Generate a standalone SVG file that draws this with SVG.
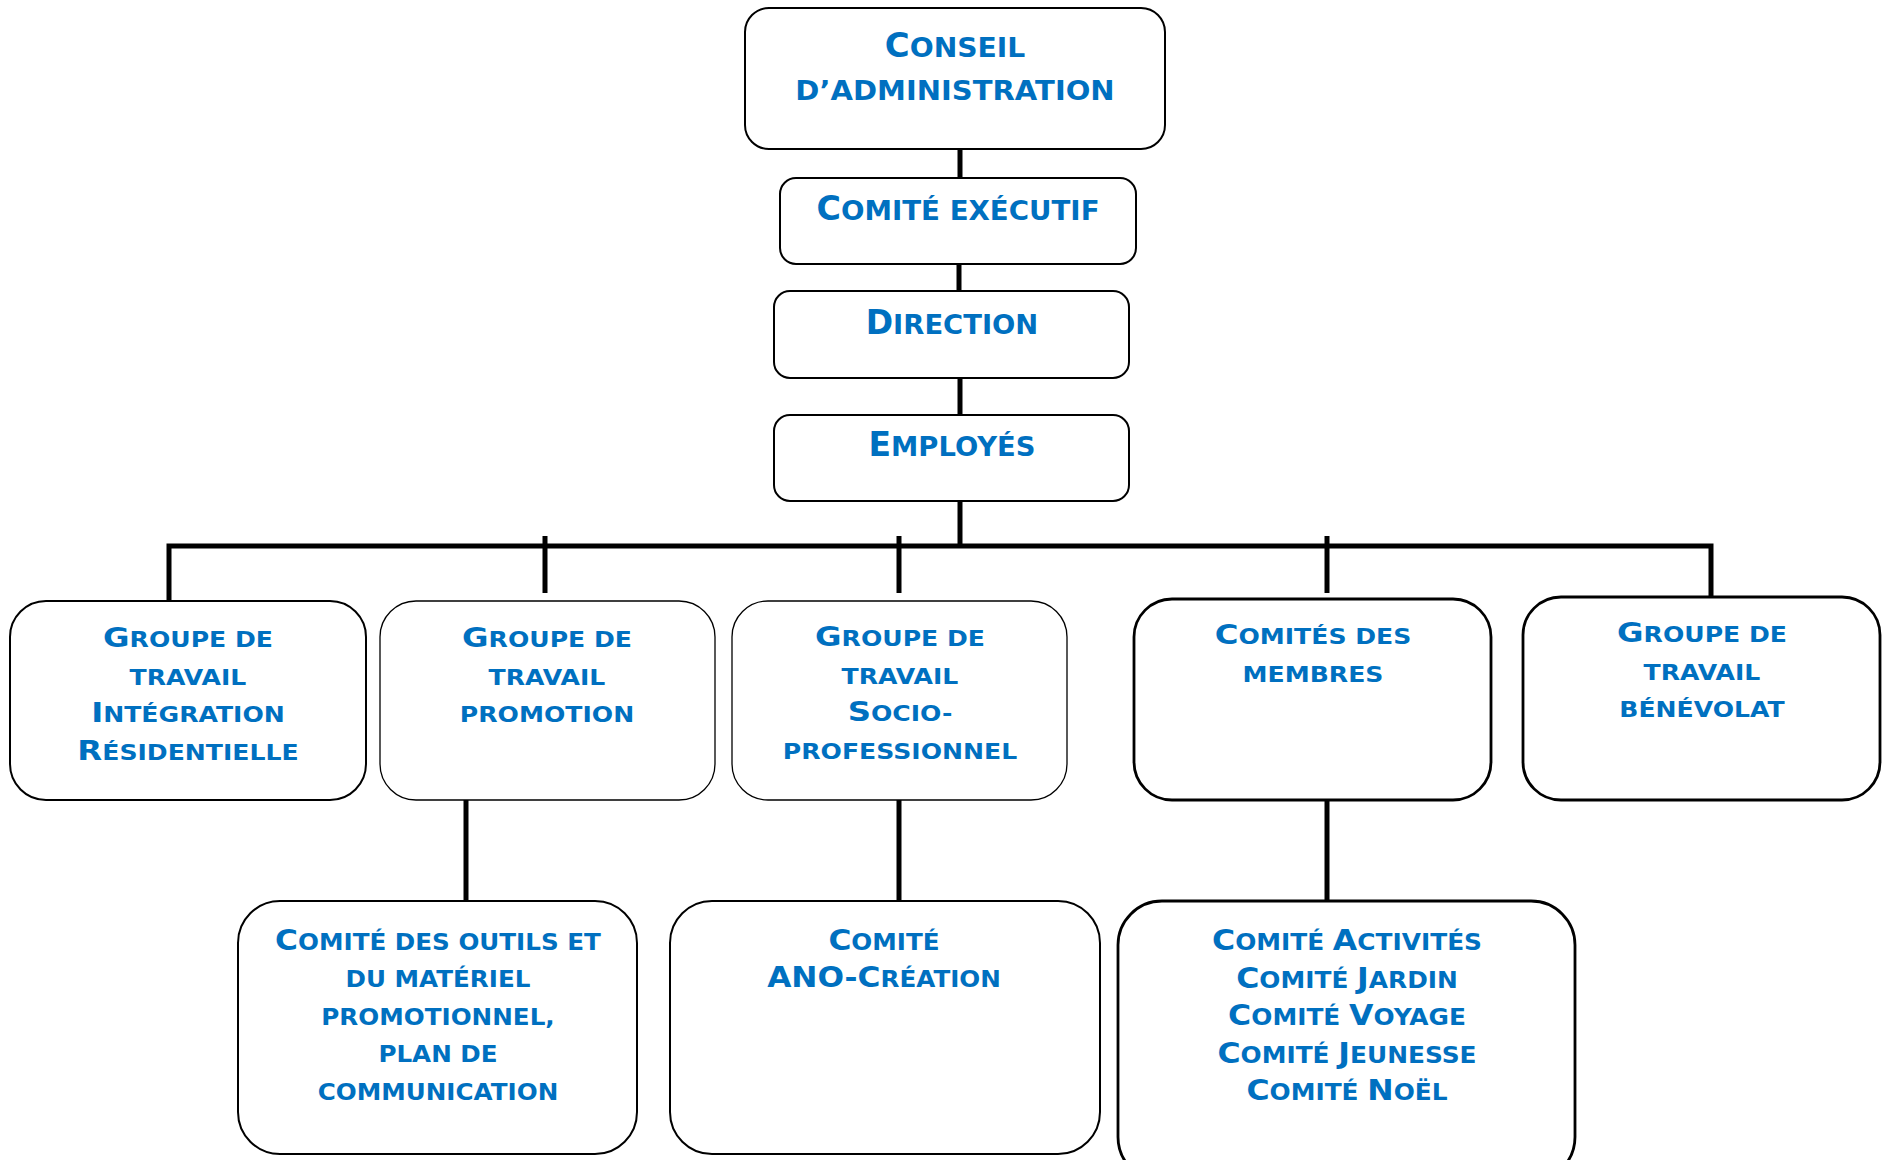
<svg xmlns="http://www.w3.org/2000/svg" width="1883" height="1160" viewBox="0 0 1883 1160">
<style>
.box{fill:#fff;stroke:#000;stroke-width:2}
.thin{stroke-width:1.3}
.thick{stroke-width:2.8}
.conn{stroke:#000;stroke-width:5;fill:none}
text{font-family:"DejaVu Sans",sans-serif;font-weight:bold;fill:#0070C0;text-anchor:middle}
.s{text-transform:uppercase}
.t1{font-size:33px}.t1 .s{font-size:27.4px}
.t2{font-size:26.5px}.t2 .s{font-size:20.6px}
.t3{font-size:28.4px}.t3 .s{font-size:22.4px}
</style>
<rect width="1883" height="1160" fill="#fff"/>
<g id="connectors">
<line class="conn" x1="960" y1="149" x2="960" y2="178"/>
<line class="conn" x1="959" y1="263" x2="959" y2="290"/>
<line class="conn" x1="960" y1="378" x2="960" y2="414"/>
<line class="conn" x1="960" y1="499" x2="960" y2="546"/>
<polyline class="conn" points="169,601 169,546 1711,546 1711,597"/>
<line class="conn" x1="545" y1="536" x2="545" y2="593"/>
<line class="conn" x1="899" y1="536" x2="899" y2="593"/>
<line class="conn" x1="1327" y1="536" x2="1327" y2="593"/>
<line class="conn" x1="466" y1="800" x2="466" y2="900"/>
<line class="conn" x1="899" y1="800" x2="899" y2="900"/>
<line class="conn" x1="1327" y1="800" x2="1327" y2="900"/>
</g>
<g id="conseil">
<rect class="box" x="745" y="8" width="420" height="141" rx="24"/>
<text class="t1" transform="matrix(1.03 0 0 1 955 0)" x="0" y="57"><tspan>C</tspan><tspan class="s">onseil</tspan></text>
<text class="t1" transform="matrix(1.06 0 0 1 955 0)" x="0" y="100"><tspan class="s">d’administration</tspan></text>
</g>
<g id="comite-executif">
<rect class="box" x="780" y="178" width="356" height="86" rx="16"/>
<text class="t1" transform="matrix(1.01 0 0 1 958 0)" x="0" y="220"><tspan>C</tspan><tspan class="s">omité exécutif</tspan></text>
</g>
<g id="direction">
<rect class="box" x="774" y="291" width="355" height="87" rx="16"/>
<text class="t1" transform="matrix(1 0 0 1 952 0)" x="0" y="334"><tspan>D</tspan><tspan class="s">irection</tspan></text>
</g>
<g id="employes">
<rect class="box" x="774" y="415" width="355" height="86" rx="16"/>
<text class="t1" transform="matrix(1 0 0 1 952 0)" x="0" y="456"><tspan>E</tspan><tspan class="s">mployés</tspan></text>
</g>
<g id="integration">
<rect class="box" x="10" y="601" width="356" height="199" rx="36"/>
<g class="t2">
<text transform="matrix(1.22 0 0 1 188 0)" x="0" y="647"><tspan>G</tspan><tspan class="s">roupe de</tspan></text>
<text transform="matrix(1.22 0 0 1 188 0)" x="0" y="685"><tspan class="s">travail</tspan></text>
<text transform="matrix(1.22 0 0 1 188 0)" x="0" y="722"><tspan>I</tspan><tspan class="s">ntégration</tspan></text>
<text transform="matrix(1.22 0 0 1 188 0)" x="0" y="760"><tspan>R</tspan><tspan class="s">ésidentielle</tspan></text>
</g>
</g>
<g id="promotion">
<rect class="box thin" x="380" y="601" width="335" height="199" rx="36"/>
<g class="t2">
<text transform="matrix(1.22 0 0 1 547 0)" x="0" y="647"><tspan>G</tspan><tspan class="s">roupe de</tspan></text>
<text transform="matrix(1.22 0 0 1 547 0)" x="0" y="685"><tspan class="s">travail</tspan></text>
<text transform="matrix(1.22 0 0 1 547 0)" x="0" y="722"><tspan class="s">promotion</tspan></text>
</g>
</g>
<g id="socio">
<rect class="box thin" x="732" y="601" width="335" height="199" rx="36"/>
<g class="t2">
<text transform="matrix(1.22 0 0 1 900 0)" x="0" y="646"><tspan>G</tspan><tspan class="s">roupe de</tspan></text>
<text transform="matrix(1.22 0 0 1 900 0)" x="0" y="684"><tspan class="s">travail</tspan></text>
<text transform="matrix(1.22 0 0 1 900 0)" x="0" y="721"><tspan>S</tspan><tspan class="s">ocio-</tspan></text>
<text transform="matrix(1.22 0 0 1 900 0)" x="0" y="759"><tspan class="s">professionnel</tspan></text>
</g>
</g>
<g id="membres">
<rect class="box thick" x="1134" y="599" width="357" height="201" rx="38"/>
<g class="t2">
<text transform="matrix(1.22 0 0 1 1313 0)" x="0" y="644"><tspan>C</tspan><tspan class="s">omités des</tspan></text>
<text transform="matrix(1.22 0 0 1 1313 0)" x="0" y="682"><tspan class="s">membres</tspan></text>
</g>
</g>
<g id="benevolat">
<rect class="box thick" x="1523" y="597" width="357" height="203" rx="38"/>
<g class="t2">
<text transform="matrix(1.22 0 0 1 1702 0)" x="0" y="642"><tspan>G</tspan><tspan class="s">roupe de</tspan></text>
<text transform="matrix(1.22 0 0 1 1702 0)" x="0" y="680"><tspan class="s">travail</tspan></text>
<text transform="matrix(1.22 0 0 1 1702 0)" x="0" y="717"><tspan class="s">bénévolat</tspan></text>
</g>
</g>
<g id="outils">
<rect class="box" x="238" y="901" width="399" height="253" rx="42"/>
<g class="t3">
<text transform="matrix(1.1 0 0 1 438 0)" x="0" y="950"><tspan>C</tspan><tspan class="s">omité des outils et</tspan></text>
<text transform="matrix(1.1 0 0 1 438 0)" x="0" y="987"><tspan class="s">du matériel</tspan></text>
<text transform="matrix(1.1 0 0 1 438 0)" x="0" y="1025"><tspan class="s">promotionnel,</tspan></text>
<text transform="matrix(1.1 0 0 1 438 0)" x="0" y="1062"><tspan class="s">plan de</tspan></text>
<text transform="matrix(1.1 0 0 1 438 0)" x="0" y="1100"><tspan class="s">communication</tspan></text>
</g>
</g>
<g id="ano-creation">
<rect class="box" x="670" y="901" width="430" height="253" rx="42"/>
<g class="t3">
<text transform="matrix(1.1 0 0 1 884 0)" x="0" y="950"><tspan>C</tspan><tspan class="s">omité</tspan></text>
<text transform="matrix(1.1 0 0 1 884 0)" x="0" y="987"><tspan>ANO-C</tspan><tspan class="s">réation</tspan></text>
</g>
</g>
<g id="comites">
<rect class="box thick" x="1118" y="901" width="457" height="280" rx="44"/>
<g class="t3">
<text transform="matrix(1.11 0 0 1 1347 0)" x="0" y="950"><tspan>C</tspan><tspan class="s">omité </tspan><tspan>A</tspan><tspan class="s">ctivités</tspan></text>
<text transform="matrix(1.11 0 0 1 1347 0)" x="0" y="988"><tspan>C</tspan><tspan class="s">omité </tspan><tspan>J</tspan><tspan class="s">ardin</tspan></text>
<text transform="matrix(1.11 0 0 1 1347 0)" x="0" y="1025"><tspan>C</tspan><tspan class="s">omité </tspan><tspan>V</tspan><tspan class="s">oyage</tspan></text>
<text transform="matrix(1.11 0 0 1 1347 0)" x="0" y="1063"><tspan>C</tspan><tspan class="s">omité </tspan><tspan>J</tspan><tspan class="s">eunesse</tspan></text>
<text transform="matrix(1.11 0 0 1 1347 0)" x="0" y="1100"><tspan>C</tspan><tspan class="s">omité </tspan><tspan>N</tspan><tspan class="s">oël</tspan></text>
</g>
</g>
</svg>
